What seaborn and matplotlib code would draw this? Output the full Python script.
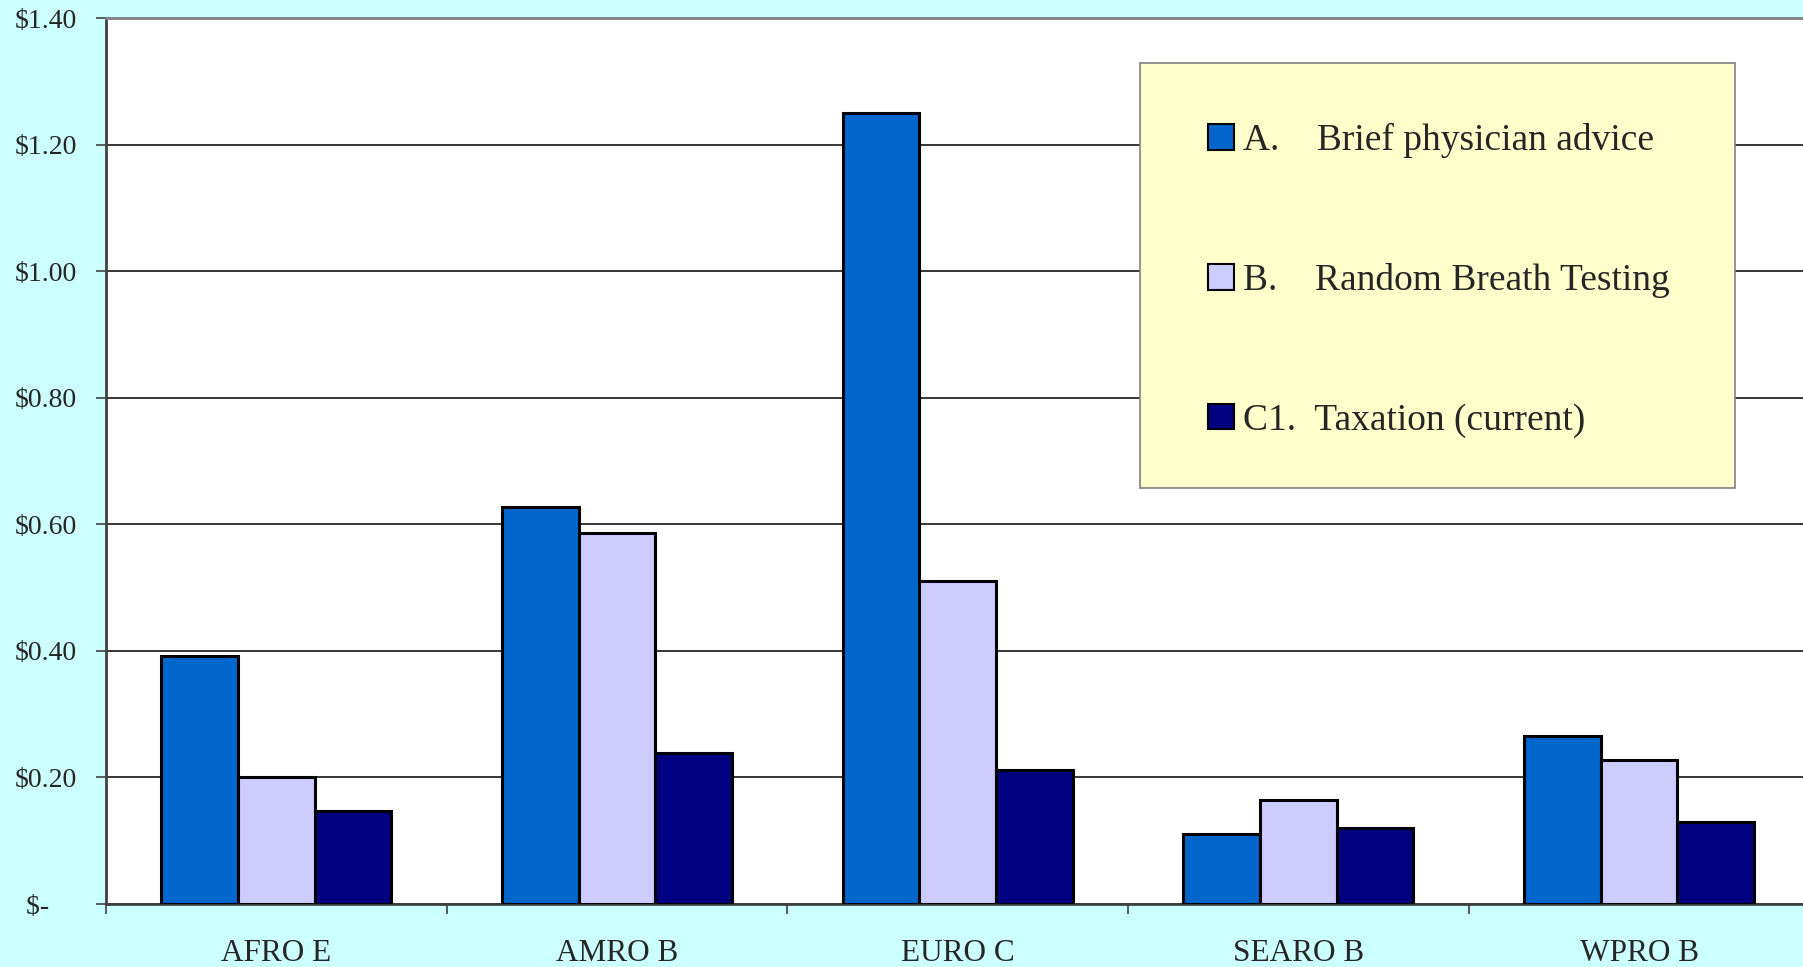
import matplotlib
matplotlib.use("Agg")
import matplotlib.pyplot as plt
import seaborn as sns
import pandas as pd
from matplotlib.patches import Rectangle
from matplotlib.ticker import FixedLocator, FuncFormatter

regions = ["AFRO E", "AMRO B", "EURO C", "SEARO B", "WPRO B"]
interventions = [
    "A.    Brief physician advice",
    "B.    Random Breath Testing",
    "C1.  Taxation (current)",
]
brief_advice = [0.392, 0.628, 1.25, 0.111, 0.265]
breath_testing = [0.201, 0.587, 0.510, 0.165, 0.227]
taxation = [0.147, 0.238, 0.211, 0.120, 0.129]
y_ticks = [0.0, 0.2, 0.4, 0.6, 0.8, 1.0, 1.2, 1.4]
bar_colors = ["#0066CC", "#CCCCFF", "#000080"]

df = pd.DataFrame({
    "region": regions * 3,
    "cost": brief_advice + breath_testing + taxation,
    "intervention": [interventions[0]] * 5 + [interventions[1]] * 5 + [interventions[2]] * 5,
})

sns.set_theme(style="white")
plt.rcParams["font.family"] = ["Liberation Serif", "DejaVu Serif"]
plt.rcParams["text.parse_math"] = False

fig = plt.figure(figsize=(18.03, 9.67), dpi=100)
fig.patch.set_facecolor("#CCFFFF")
ax = fig.add_axes([106 / 1803, 63 / 967, 5 * 340.7 / 1803, 886 / 967])
ax.set_facecolor("white")

sns.barplot(
    data=df, x="region", y="cost", hue="intervention",
    palette=bar_colors, width=0.675, gap=0,
    edgecolor="black", linewidth=2.2, saturation=1, ax=ax, zorder=3,
)

ax.set_xlim(-0.5, 4.5)
ax.set_ylim(0, 1.4)
ax.set_xlabel("")
ax.set_ylabel("")

ax.yaxis.set_major_locator(FixedLocator(y_ticks))


def money(v, _pos):
    return "$-    " if abs(v) < 1e-9 else f"${v:.2f}"


ax.yaxis.set_major_formatter(FuncFormatter(money))
ax.grid(axis="y", color="black", linewidth=1.1, zorder=0)
ax.set_axisbelow(True)

ax.tick_params(axis="y", which="major", direction="out", length=7, width=1.2,
               color="#404040", pad=14, labelsize=20, left=True)
ax.tick_params(axis="x", which="major", length=0, pad=25, labelsize=22.5)
ax.xaxis.set_minor_locator(FixedLocator([-0.5, 0.5, 1.5, 2.5, 3.5, 4.5]))
ax.tick_params(axis="x", which="minor", direction="out", length=7, width=1.2,
               color="#404040", bottom=True)

for side in ["left", "bottom"]:
    ax.spines[side].set_color("#404040")
    ax.spines[side].set_linewidth(2)
ax.spines["top"].set_color("#808080")
ax.spines["top"].set_linewidth(2)
ax.spines["right"].set_visible(False)

# legend panel
panel = Rectangle((1140 / 1803, 1 - 488 / 967), 595 / 1803, 425 / 967,
                  transform=fig.transFigure, facecolor="#FFFFCC",
                  edgecolor="#808080", linewidth=1.2, zorder=5, clip_on=False)
ax.add_patch(panel)
handles, labels = ax.get_legend_handles_labels()
leg = ax.legend(handles, labels, loc="upper left",
                bbox_to_anchor=(1208 / 1803, 1 - 123 / 967),
                bbox_transform=fig.transFigure, frameon=False,
                fontsize=27, labelspacing=2.8, handlelength=0.68, handleheight=0.68,
                handletextpad=0.25, borderpad=0, borderaxespad=0)
leg.set_zorder(6)
for h in leg.legend_handles:
    h.set_edgecolor("black")
    h.set_linewidth(1.5)

fig.savefig("out.png", dpi=100, facecolor=fig.get_facecolor())
